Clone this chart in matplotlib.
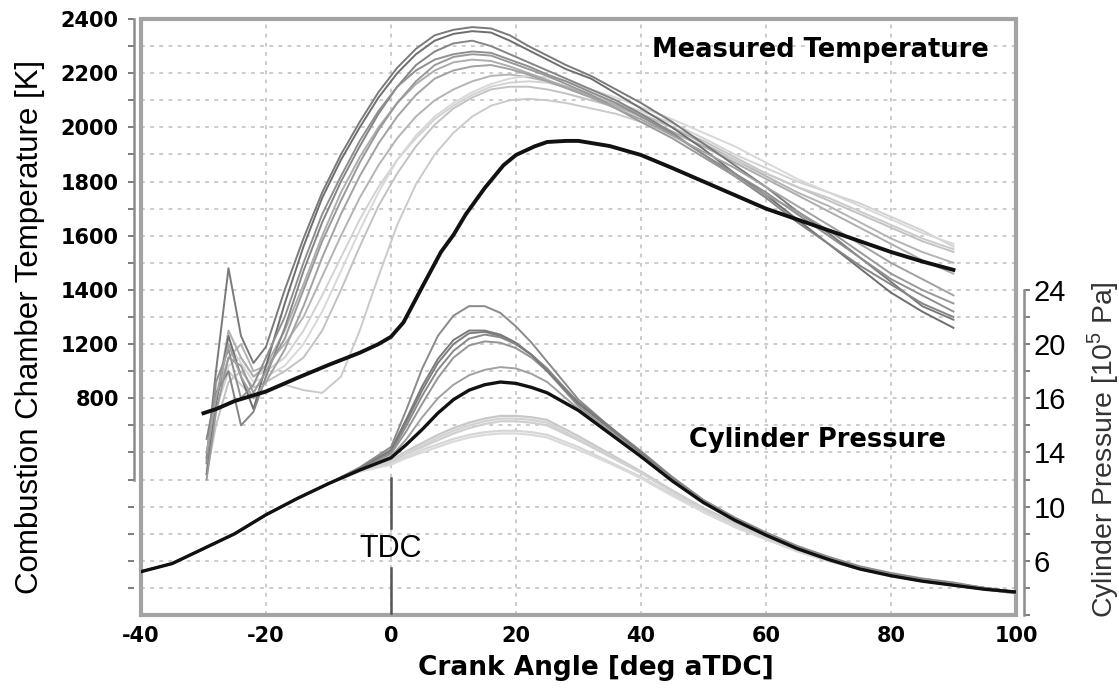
import numpy as np
import matplotlib
matplotlib.use('Agg')
import matplotlib.pyplot as plt
from matplotlib.patches import Rectangle

# ── Measured combustion chamber temperature traces [K] ──
ca_temp = [-29.5, -28, -26, -24, -22, -20, -17, -14, -11, -8, -5, -2, 1, 4, 7,
           10, 13, 16, 19, 22, 25, 28, 32, 36, 40, 45, 50, 55, 60, 65, 70, 75, 80, 85, 90]

temp_dark1 = [780, 1100, 1480, 1230, 1130, 1190, 1400, 1590, 1760, 1900, 2020, 2130, 2220, 2290, 2340,
              2360, 2370, 2365, 2340, 2300, 2265, 2230, 2190, 2140, 2090, 2020, 1940, 1860, 1780, 1690,
              1610, 1520, 1430, 1340, 1290]
temp_dark2 = [720, 980, 1230, 1080, 960, 1120, 1350, 1560, 1740, 1880, 2000, 2110, 2200, 2270, 2320,
              2345, 2355, 2350, 2320, 2285, 2250, 2215, 2180, 2125, 2070, 2000, 1920, 1830, 1750, 1660,
              1570, 1480, 1390, 1320, 1260]
temp_dark3 = [850, 1020, 1100, 900, 950, 1080, 1260, 1470, 1650, 1800, 1930, 2050, 2150, 2230, 2280,
              2310, 2320, 2300, 2270, 2240, 2210, 2180, 2140, 2100, 2050, 1980, 1900, 1820, 1740, 1650,
              1570, 1490, 1420, 1350, 1300]
temp_dark4 = [760, 1060, 1180, 1000, 1050, 1150, 1300, 1500, 1680, 1820, 1950, 2060, 2150, 2210, 2250,
              2270, 2280, 2275, 2250, 2225, 2195, 2170, 2130, 2090, 2040, 1975, 1900, 1830, 1760, 1680,
              1600, 1520, 1440, 1380, 1320]
temp_dark5 = [700, 950, 1150, 1120, 1020, 1100, 1220, 1400, 1580, 1730, 1870, 1990, 2090, 2170, 2230,
              2260, 2270, 2265, 2240, 2215, 2190, 2160, 2120, 2070, 2020, 1960, 1890, 1820, 1750, 1690,
              1620, 1540, 1460, 1400, 1350]
temp_dark6 = [800, 1000, 1200, 1080, 1000, 1060, 1180, 1340, 1520, 1680, 1820, 1940, 2040, 2120, 2180,
              2210, 2225, 2230, 2215, 2195, 2170, 2145, 2110, 2070, 2030, 1970, 1910, 1850, 1780, 1710,
              1640, 1570, 1500, 1440, 1380]
temp_light1 = [760, 1000, 1150, 1200, 1100, 1120, 1200, 1300, 1450, 1600, 1740, 1860, 1960, 2040, 2100,
               2140, 2170, 2190, 2195, 2185, 2170, 2150, 2120, 2085, 2050, 2000, 1940, 1880, 1820, 1760,
               1710, 1650, 1590, 1540, 1500]
temp_light2 = [720, 900, 1060, 1100, 1040, 1060, 1100, 1150, 1250, 1400, 1560, 1710, 1830, 1930, 2010,
               2070, 2110, 2140, 2150, 2150, 2140, 2125, 2100, 2075, 2045, 2000, 1950, 1890, 1830, 1780,
               1730, 1680, 1630, 1580, 1540]
temp_light3 = [780, 960, 1100, 1050, 1000, 1030, 1050, 1030, 1020, 1080, 1250, 1450, 1640, 1790, 1900,
               1980, 2040, 2080, 2100, 2105, 2100, 2090, 2070, 2050, 2020, 1980, 1930, 1880, 1830, 1780,
               1740, 1690, 1640, 1590, 1550]
temp_light4 = [740, 950, 1120, 1150, 1080, 1100, 1150, 1250, 1380, 1520, 1660, 1780, 1880, 1960, 2030,
               2080, 2120, 2150, 2165, 2170, 2165, 2150, 2125, 2090, 2060, 2015, 1960, 1900, 1850, 1800,
               1760, 1720, 1670, 1620, 1560]
temp_light5 = [800, 1020, 1200, 1130, 1060, 1080, 1120, 1200, 1320, 1470, 1620, 1760, 1880, 1970, 2040,
               2090, 2130, 2160, 2180, 2190, 2185, 2170, 2140, 2110, 2075, 2030, 1980, 1930, 1870, 1810,
               1760, 1710, 1660, 1610, 1570]
temp_light6 = [770, 980, 1250, 1150, 1080, 1120, 1250, 1420, 1600, 1760, 1890, 2000, 2090, 2160, 2210,
               2240, 2250, 2245, 2225, 2200, 2175, 2150, 2115, 2080, 2040, 1985, 1930, 1870, 1810, 1750,
               1690, 1630, 1570, 1510, 1460]

# black reference temperature trace
ca_model = [-30, -28, -25, -20, -15, -10, -5, -2, 0, 2, 5, 8, 10, 12, 15, 18, 20, 23, 25, 28, 30,
            35, 40, 45, 50, 55, 60, 65, 70, 75, 80, 85, 90]
temp_model = [945, 960, 990, 1025, 1075, 1123, 1168, 1200, 1227, 1280, 1411, 1540, 1603, 1680, 1776,
              1860, 1898, 1930, 1946, 1950, 1950, 1931, 1898, 1850, 1800, 1750, 1700, 1660, 1620,
              1580, 1540, 1505, 1474]

# ── Cylinder pressure traces [1e5 Pa] ──
ca_press = [-40, -35, -30, -25, -20, -15, -10, -5, 0, 2.5, 5, 7.5, 10, 12.5, 15, 17.5, 20, 22.5, 25,
            30, 35, 40, 45, 50, 55, 60, 65, 70, 75, 80, 85, 90, 95, 100]
p_compression = [3.2, 3.8, 4.9, 6.0, 7.4, 8.6, 9.7]   # common part, -40 .. -10 deg

p_top = [10.9, 12.4, 15.2, 18.2, 20.6, 22.1, 22.8, 22.8, 22.3, 21.3, 20.1, 18.7, 15.9, 13.9, 12.1,
         10.2, 8.5, 7.2, 6.1, 5.1, 4.3, 3.6, 3.1, 2.7, 2.4, 2.0, 1.7]
p_dark1 = [10.8, 12.1, 14.3, 16.6, 18.6, 20.0, 20.8, 20.9, 20.6, 20.0, 19.2, 18.1, 15.7, 13.9, 12.0,
           10.1, 8.4, 7.1, 6.0, 5.0, 4.2, 3.5, 3.0, 2.6, 2.3, 2.0, 1.7]
p_dark2 = [10.8, 12.0, 14.0, 16.2, 18.1, 19.5, 20.4, 20.7, 20.5, 20.0, 19.2, 18.2, 15.6, 13.8, 11.9,
           10.0, 8.3, 7.0, 5.9, 5.0, 4.2, 3.5, 3.0, 2.6, 2.3, 2.0, 1.7]
p_dark3 = [10.7, 11.9, 13.6, 15.6, 17.5, 19.0, 19.9, 20.2, 20.1, 19.7, 19.0, 18.0, 15.4, 13.6, 11.8,
           9.9, 8.3, 7.0, 5.9, 4.9, 4.1, 3.4, 2.9, 2.5, 2.2, 1.9, 1.6]
p_dark4 = [10.8, 12.2, 14.5, 16.9, 18.9, 20.3, 21.0, 21.0, 20.7, 20.1, 19.2, 18.0, 15.6, 13.8, 11.9,
           10.0, 8.4, 7.1, 6.0, 5.0, 4.2, 3.5, 3.0, 2.6, 2.3, 2.0, 1.7]
p_mid = [10.7, 11.7, 13.0, 14.6, 16.0, 17.0, 17.7, 18.1, 18.3, 18.2, 17.8, 17.2, 15.2, 13.6, 11.8,
         10.0, 8.4, 7.1, 6.0, 5.0, 4.2, 3.5, 3.0, 2.6, 2.3, 2.0, 1.7]
p_black = [10.7, 11.6, 12.6, 13.7, 14.9, 15.9, 16.6, 17.0, 17.2, 17.1, 16.8, 16.4, 15.1, 13.4, 11.7,
           9.9, 8.3, 7.0, 5.9, 4.9, 4.1, 3.4, 2.9, 2.5, 2.2, 1.9, 1.7]
p_light1 = [10.6, 11.3, 11.9, 12.4, 12.9, 13.4, 13.8, 14.1, 14.3, 14.3, 14.2, 14.0, 12.9, 11.7, 10.5,
            9.1, 7.8, 6.7, 5.7, 4.8, 4.0, 3.4, 2.9, 2.5, 2.2, 1.9, 1.6]
p_light2 = [10.6, 11.2, 11.7, 12.2, 12.6, 13.0, 13.3, 13.5, 13.6, 13.6, 13.5, 13.3, 12.4, 11.3, 10.2,
            8.9, 7.6, 6.5, 5.6, 4.7, 4.0, 3.4, 2.9, 2.5, 2.2, 1.9, 1.6]
p_light3 = [10.7, 11.4, 12.1, 12.7, 13.3, 13.8, 14.2, 14.5, 14.7, 14.7, 14.6, 14.4, 13.2, 11.9, 10.6,
            9.2, 7.9, 6.8, 5.8, 4.9, 4.1, 3.5, 3.0, 2.6, 2.2, 1.9, 1.7]
p_light4 = [10.6, 11.1, 11.6, 12.0, 12.4, 12.8, 13.1, 13.3, 13.4, 13.4, 13.3, 13.1, 12.2, 11.2, 10.1,
            8.8, 7.6, 6.5, 5.6, 4.7, 4.0, 3.4, 2.9, 2.5, 2.2, 1.9, 1.6]
p_light5 = [10.7, 11.3, 12.0, 12.5, 13.1, 13.6, 14.0, 14.3, 14.5, 14.5, 14.4, 14.2, 13.0, 11.8, 10.5,
            9.1, 7.8, 6.7, 5.7, 4.8, 4.0, 3.4, 2.9, 2.5, 2.2, 1.9, 1.6]

# ── axis ticks (labels as printed in the figure) ──
x_ticks = [-40, -20, 0, 20, 40, 60, 80, 100]
temp_tick_pos = [1000, 1200, 1400, 1600, 1800, 2000, 2200, 2400]
temp_tick_lbl = ['800', '1200', '1400', '1600', '1800', '2000', '2200', '2400']
press_tick_pos = [4, 8, 12, 16, 20, 24]
press_tick_lbl = ['6', '10', '14', '16', '20', '24']

plt.rcParams['mathtext.fontset'] = 'custom'
plt.rcParams['mathtext.rm'] = 'Liberation Sans'

fig = plt.figure(figsize=(11.19, 6.88), dpi=100)
ax = fig.add_axes([0.126, 0.1061, 0.7819, 0.8663])
ax2 = ax.twinx()

ax.set_xlim(-40, 100)
ax.set_ylim(200, 2400)
ax2.set_ylim(0, 44)

# ticks and grid
ax.set_xticks(x_ticks)
ax.set_yticks(temp_tick_pos)
ax.set_yticks(np.arange(300, 2400, 100), minor=True)
ax.grid(which='both', axis='y', color='#bdbdbd', linestyle=(0, (2.5, 3.5)), linewidth=1.1)
ax.grid(which='major', axis='x', color='#bdbdbd', linestyle=(0, (2.5, 3.5)), linewidth=1.1)
ax.set_axisbelow(True)
ax.tick_params(axis='x', length=0, pad=8, labelsize=15)
ax.tick_params(axis='y', which='both', direction='out', length=4, width=1.2, color='#666666', pad=7,
               labelsize=15)
for t in ax.yaxis.get_minor_ticks():
    if t.get_loc() < 700:
        t.tick1line.set_visible(False)

for s in ['top', 'right', 'bottom']:
    ax.spines[s].set_visible(False)
ax.spines['left'].set_position(('outward', 5))
ax.spines['left'].set_bounds(700, 2400)
ax.spines['left'].set_color('#8c8c8c')
ax.spines['left'].set_linewidth(1.8)

# right pressure axis
for s in ['top', 'left', 'bottom']:
    ax2.spines[s].set_visible(False)
ax2.spines['right'].set_position(('outward', 6))
ax2.spines['right'].set_bounds(0, 24)
ax2.spines['right'].set_color('#8c8c8c')
ax2.spines['right'].set_linewidth(1.8)
ax2.set_yticks(press_tick_pos)
ax2.set_yticks(np.arange(0, 25, 2), minor=True)
ax2.tick_params(axis='y', which='both', direction='out', length=4, width=1.2, color='#666666', pad=3,
                labelsize=21)

# frame around the plot area
ax.add_patch(Rectangle((0, 0), 1, 1, transform=ax.transAxes, fill=False,
                       edgecolor='#a3a3a3', linewidth=3, clip_on=False, zorder=5))

# temperature traces
light_t = [temp_light1, temp_light2, temp_light3, temp_light4, temp_light5, temp_light6]
light_c = ['#b4b4b4', '#c2c2c2', '#cacaca', '#d2d2d2', '#d8d8d8', '#adadad']
for vals, c in zip(light_t, light_c):
    ax.plot(ca_temp, vals, color=c, lw=1.4, zorder=2)
dark_t = [temp_dark1, temp_dark2, temp_dark3, temp_dark4, temp_dark5, temp_dark6]
dark_c = ['#7a7a7a', '#6e6e6e', '#858585', '#8f8f8f', '#999999', '#a2a2a2']
for vals, c in zip(dark_t, dark_c):
    ax.plot(ca_temp, vals, color=c, lw=1.4, zorder=3)
ax.plot(ca_model, temp_model, color='#111111', lw=2.8, zorder=4)

# pressure traces
for vals, c in zip([p_light1, p_light2, p_light3, p_light4, p_light5],
                   ['#cfcfcf', '#d6d6d6', '#c8c8c8', '#dadada', '#d2d2d2']):
    ax2.plot(ca_press, p_compression + vals, color=c, lw=1.6, zorder=2)
for vals, c in zip([p_top, p_dark1, p_dark2, p_dark3, p_dark4, p_mid],
                   ['#8a8a8a', '#7d7d7d', '#888888', '#949494', '#7a7a7a', '#a0a0a0']):
    ax2.plot(ca_press, p_compression + vals, color=c, lw=1.4, zorder=3)
ax2.plot(ca_press, p_compression + p_black, color='#111111', lw=2.4, zorder=4)

# TDC marker
ax2.plot([0, 0], [0.15, 3.5], color='#555555', lw=1.8)
ax2.plot([0, 0], [6.4, 10.1], color='#555555', lw=1.8)
ax2.text(0, 4.9, 'TDC', ha='center', va='center', fontsize=22, family='Liberation Sans')

ax.text(0.776, 0.948, 'Measured Temperature', transform=ax.transAxes, ha='center', va='center',
        fontsize=18.5, fontweight='bold')
ax.text(0.773, 0.294, 'Cylinder Pressure', transform=ax.transAxes, ha='center', va='center',
        fontsize=18.5, fontweight='bold')

ax.set_xlabel('Crank Angle [deg aTDC]', fontsize=19, fontweight='bold', va='center')
ax.xaxis.set_label_coords(0.52, -0.089)
ax.set_ylabel('Combustion Chamber Temperature [K]', fontsize=22.5, family='Liberation Sans', va='center')
ax.yaxis.set_label_coords(-0.127, 0.484)
ax2.set_ylabel('Cylinder Pressure [10$^5$ Pa]', fontsize=20.5, family='Liberation Sans',
               color='#333333', va='center')
ax2.yaxis.set_label_coords(1.099, 0.277)

# tick label text as printed in the original figure
ax.set_xticklabels([str(v) for v in x_ticks], fontsize=15, fontweight='bold')
ax.set_yticklabels(temp_tick_lbl, fontsize=15, fontweight='bold')
ax2.set_yticklabels(press_tick_lbl, fontsize=21, family='Liberation Sans')

fig.savefig('out.png', dpi=100)
plt.close(fig)
